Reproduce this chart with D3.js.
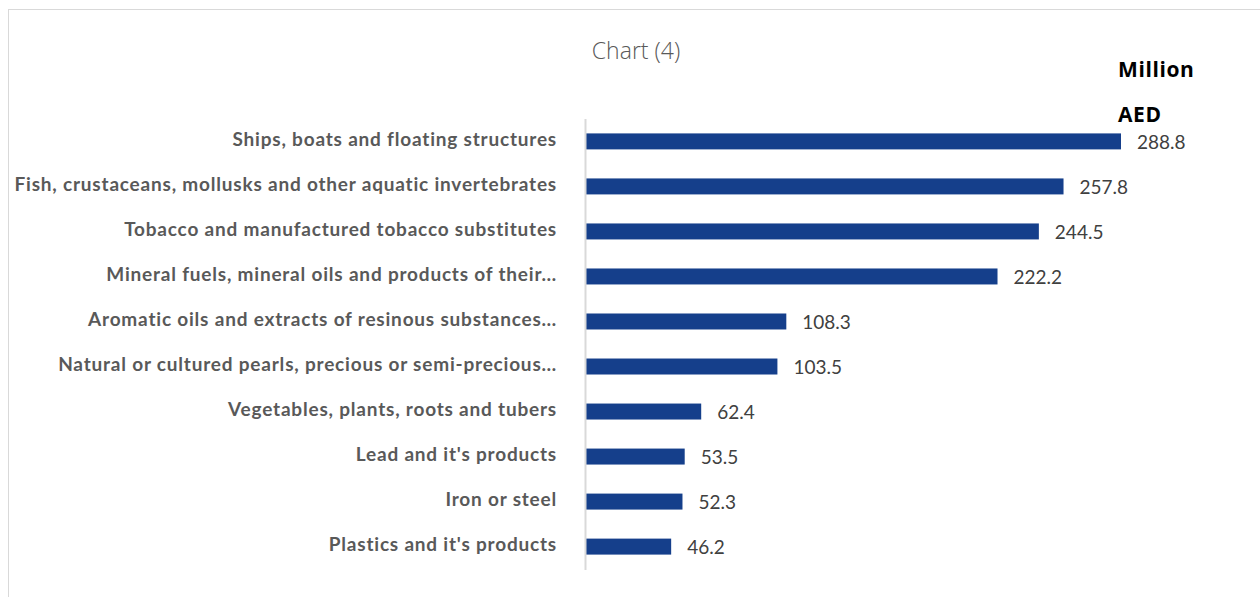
<!DOCTYPE html>
<html><head><meta charset="utf-8">
<script src="https://cdn.jsdelivr.net/npm/d3@7"></script>
<style>body{margin:0;background:#fff}svg{display:block}</style>
</head><body>
<script>
const categories = [
  "Ships, boats and floating structures",
  "Fish, crustaceans, mollusks and other aquatic invertebrates",
  "Tobacco and manufactured tobacco substitutes",
  "Mineral fuels, mineral oils and products of their…",
  "Aromatic oils and extracts of resinous substances…",
  "Natural or cultured pearls, precious or semi-precious…",
  "Vegetables, plants, roots and tubers",
  "Lead and it's products",
  "Iron or steel",
  "Plastics and it's products"
];
const values = [288.8, 257.8, 244.5, 222.2, 108.3, 103.5, 62.4, 53.5, 52.3, 46.2];
const title = "Chart (4)";
const unitLines = ["Million", "AED"];

const W = 1260, H = 597;
const svg = d3.select("body").append("svg").attr("width", W).attr("height", H);
svg.append("rect").attr("x", 8.5).attr("y", 9.5).attr("width", 1300).attr("height", 700)
  .attr("fill", "#fff").attr("stroke", "#d9d9d9").attr("stroke-width", 1);

const x0 = 585.5;
const x = d3.scaleLinear().domain([0, 288.8]).range([x0, 1121]);
const y = d3.scaleBand().domain(categories).range([119, 569]).paddingInner(0.645).paddingOuter(0.32);

svg.append("text").attr("x", 636).attr("y", 59).attr("text-anchor", "middle")
  .attr("font-family", "Open Sans, sans-serif").attr("font-weight", 300).attr("font-size", 23).attr("fill", "#595959").text(title);

unitLines.forEach((t, i) => {
  svg.append("text").attr("x", 1118).attr("y", 77 + i * 45)
    .attr("font-family", "Open Sans, sans-serif").attr("font-weight", 700).attr("font-size", 21)
    .attr("letter-spacing", 0.6).attr("fill", "#000").text(t);
});

svg.selectAll("rect.bar").data(values).join("rect").attr("class", "bar")
  .attr("x", x(0)).attr("y", (d, i) => y(categories[i]))
  .attr("width", d => x(d) - x(0)).attr("height", y.bandwidth())
  .attr("fill", "#153f8b");

svg.append("line").attr("x1", x0).attr("x2", x0).attr("y1", 119).attr("y2", 570)
  .attr("stroke", "#d9d9d9").attr("stroke-width", 2);

svg.selectAll("text.cat").data(categories).join("text").attr("class", "cat")
  .attr("x", 557).attr("y", d => y(d) + y.bandwidth() / 2 - 2).attr("dy", "0.35em")
  .attr("text-anchor", "end").attr("font-family", "Lato, sans-serif").attr("font-weight", 700)
  .attr("font-size", 19).attr("letter-spacing", 0.8).attr("fill", "#595959").text(d => d);

svg.selectAll("text.val").data(values).join("text").attr("class", "val")
  .attr("x", d => x(d) + 16).attr("y", (d, i) => y(categories[i]) + y.bandwidth() / 2 + 1).attr("dy", "0.35em")
  .attr("font-family", "Lato, sans-serif").attr("font-size", 19).attr("fill", "#404040")
  .text(d => d.toFixed(1));
</script>
</body></html>
